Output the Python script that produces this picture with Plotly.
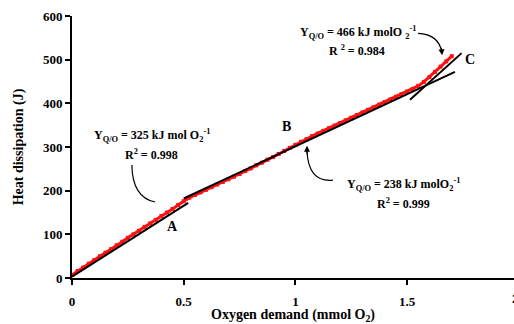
import plotly.graph_objects as go

# Measured data (red)
oxygen = [0.000, 0.025, 0.050, 0.075, 0.100, 0.125, 0.150, 0.175, 0.200, 0.225,
          0.250, 0.275, 0.300, 0.325, 0.350, 0.375, 0.400, 0.425, 0.450, 0.475,
          0.500, 0.525, 0.550, 0.575, 0.600, 0.625, 0.650, 0.675, 0.700, 0.725,
          0.750, 0.775, 0.800, 0.825, 0.850, 0.875, 0.900, 0.925, 0.950, 0.975,
          1.000, 1.025, 1.050, 1.075, 1.100, 1.125, 1.150, 1.175, 1.200, 1.225,
          1.250, 1.275, 1.300, 1.325, 1.350, 1.375, 1.400, 1.425, 1.450, 1.475,
          1.500, 1.525, 1.550, 1.575, 1.600, 1.625, 1.650, 1.675, 1.700]
heat = [7, 16, 24, 33, 41, 50, 58, 66, 75, 83,
        92, 100, 108, 117, 125, 133, 142, 150, 158, 167,
        176, 184, 190, 196, 202, 208, 214, 220, 226, 232,
        238, 245, 251, 258, 264, 271, 277, 284, 291, 298,
        305, 312, 318, 325, 331, 337, 343, 349, 355, 361,
        367, 373, 379, 385, 391, 397, 403, 409, 415, 421,
        427, 433, 440, 449, 460, 472, 484, 496, 508]

# Linear fits (black)
fitA_x = [0.0, 0.52]
fitA_y = [3, 172]
fitB_x = [0.50, 1.714]
fitB_y = [182, 472]
fitC_x = [1.513, 1.744]
fitC_y = [408, 515]

x_ticks = [0, 0.5, 1, 1.5]
x_ticklabels = ["0", "0.5", "1", "1.5"]
y_ticks = [0, 100, 200, 300, 400, 500, 600]

FONT = "Liberation Serif, Times New Roman, serif"

fig = go.Figure()
fig.add_trace(go.Scatter(x=oxygen, y=heat, mode="lines+markers",
                         line=dict(color="#ff1010", width=3),
                         marker=dict(symbol="square", size=4, color="#ff1010"),
                         showlegend=False))
for fx, fy in [(fitA_x, fitA_y), (fitB_x, fitB_y), (fitC_x, fitC_y)]:
    fig.add_trace(go.Scatter(x=fx, y=fy, mode="lines",
                             line=dict(color="black", width=2), showlegend=False))

def txt(x, y, s, size=12):
    fig.add_annotation(x=x, y=y, xref="x", yref="y", text="<b>" + s + "</b>",
                       showarrow=False, font=dict(family=FONT, size=size, color="black"))

txt(0.358, 327, "Y<sub>Q/O</sub> = 325 kJ mol O<sub>2</sub><sup>-1</sup>")
txt(0.358, 283, "R<sup>2</sup> = 0.998")
txt(1.482, 215, "Y<sub>Q/O</sub> = 238 kJ molO<sub>2</sub><sup>-1</sup>")
txt(1.486, 170, "R<sup>2</sup> = 0.999")
txt(1.280, 563, "Y<sub>Q/O</sub> = 466 kJ molO <sub>2</sub><sup>-1</sup>")
txt(1.276, 522, "R <sup>2</sup> = 0.984")
txt(0.452, 117, "A", 14)
txt(0.962, 348, "B", 14)
txt(1.780, 501, "C", 14)

# curved arrows
fig.add_shape(type="path", xref="x", yref="y",
              path="M 0.268,259 Q 0.270,185 0.372,174",
              line=dict(color="black", width=1.2))
fig.add_shape(type="path", xref="x", yref="y",
              path="M 1.168,224 Q 1.056,218 1.052,293",
              line=dict(color="black", width=1.2))
fig.add_shape(type="path", xref="x", yref="y",
              path="M 1.549,560 Q 1.640,558 1.655,518",
              line=dict(color="black", width=1.2))
fig.add_annotation(x=1.052, y=303, xref="x", yref="y", ax=0, ay=10, text="",
                   showarrow=True, arrowhead=2, arrowsize=1, arrowwidth=1.2, arrowcolor="black")
fig.add_annotation(x=1.657, y=510, xref="x", yref="y", ax=-1, ay=-9, text="",
                   showarrow=True, arrowhead=2, arrowsize=1, arrowwidth=1.2, arrowcolor="black")

# partially visible tick label "2" at right edge
fig.add_annotation(x=1.0, y=0, xref="paper", yref="paper", xanchor="left", yanchor="top",
                   xshift=-4, yshift=-11, text="<b>2</b>", showarrow=False,
                   font=dict(family=FONT, size=13, color="black"))

fig.update_layout(
    width=514, height=324,
    margin=dict(l=72, r=0, t=16, b=46),
    plot_bgcolor="white", paper_bgcolor="white",
    font=dict(family=FONT, size=13, color="black"),
    xaxis=dict(range=[0, 1.9785], tickvals=x_ticks, ticktext=["<b>%s</b>" % t for t in x_ticklabels],
               showline=True, linecolor="black", linewidth=2, ticks="outside", ticklen=5,
               tickwidth=1.5, tickcolor="black", showgrid=False, zeroline=False,
               ticklabelstandoff=5,
               title=dict(text="<b>Oxygen demand (mmol O<sub>2</sub>)</b>", standoff=0,
                          font=dict(family=FONT, size=14))),
    yaxis=dict(range=[0, 600], tickvals=y_ticks, ticktext=["<b>%d</b>" % v for v in y_ticks],
               showline=True, linecolor="black", linewidth=2, ticks="outside", ticklen=5,
               tickwidth=1.5, tickcolor="black", showgrid=False, zeroline=False,
               title=dict(text="<b>Heat dissipation (J)</b>", standoff=16,
                          font=dict(family=FONT, size=14))),
)

fig.write_html("out.html")
